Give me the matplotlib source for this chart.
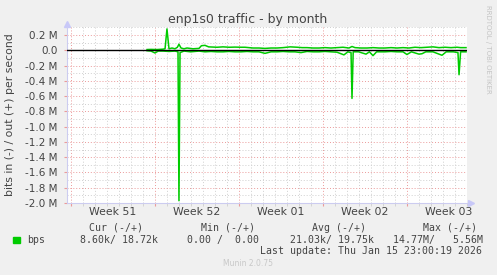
import numpy as np
import matplotlib
matplotlib.use("Agg")
import matplotlib.pyplot as plt
from matplotlib.patches import Rectangle

plt.rcParams.update({'font.size': 7.5, 'font.family': 'DejaVu Sans'})

# time axis in days from the left edge of the graph
week_starts = [0.31, 7.31, 14.31, 21.31, 28.31]
week_labels = ['Week 51', 'Week 52', 'Week 01', 'Week 02', 'Week 03']

# outbound traffic (+), Mbit/s
out_days = [6.67, 7.0, 7.5, 8.0, 8.17, 8.33, 8.5, 8.75, 9.0, 9.2, 9.33, 9.5, 9.75, 10.0,
            10.5, 11.0, 11.2, 11.5, 11.8, 12.5, 13.0, 13.5, 14.0, 14.5, 14.83, 15.5, 16.0,
            16.5, 17.0, 17.5, 18.0, 18.6, 19.2, 19.6, 20.0, 20.5, 21.0, 21.5, 22.0, 22.5,
            23.0, 23.5, 23.75, 24.0, 24.5, 25.0, 25.5, 26.0, 26.5, 27.0, 27.5, 28.0, 28.5,
            29.0, 29.5, 30.0, 30.5, 31.0, 31.5, 32.0, 32.5, 32.8, 33.25]
out_vals = [0.010, 0.012, 0.010, 0.015, 0.020, 0.280, 0.020, 0.030, 0.020, 0.040, 0.080,
            0.030, 0.020, 0.030, 0.020, 0.025, 0.060, 0.065, 0.045, 0.040, 0.045, 0.040,
            0.042, 0.040, 0.040, 0.030, 0.030, 0.025, 0.030, 0.030, 0.035, 0.045, 0.040,
            0.035, 0.035, 0.030, 0.030, 0.035, 0.030, 0.035, 0.040, 0.030, 0.050, 0.035,
            0.030, 0.030, 0.035, 0.030, 0.030, 0.035, 0.030, 0.035, 0.030, 0.040, 0.035,
            0.040, 0.045, 0.035, 0.040, 0.035, 0.040, 0.035, 0.035]

# inbound traffic (-), Mbit/s
in_days = [6.67, 7.0, 7.33, 7.6, 8.0, 8.5, 9.0, 9.25, 9.33, 9.42, 9.75, 10.3, 11.0, 11.5,
           12.0, 12.5, 13.0, 13.5, 14.0, 14.5, 15.0, 15.5, 16.0, 16.5, 17.0, 17.5, 18.0,
           18.5, 19.0, 19.5, 20.0, 20.5, 21.0, 21.5, 22.0, 22.5, 23.08, 23.4, 23.67, 23.75,
           23.85, 24.3, 24.92, 25.2, 25.5, 25.8, 26.5, 27.0, 27.5, 28.0, 28.33, 28.7, 29.33,
           29.58, 29.9, 30.5, 31.25, 31.6, 32.2, 32.58, 32.67, 32.8, 33.25]
in_vals = [-0.005, -0.010, -0.035, -0.010, -0.010, -0.015, -0.010, -0.020, -1.970, -0.030,
           -0.010, -0.020, -0.010, -0.020, -0.015, -0.020, -0.020, -0.015, -0.020, -0.020,
           -0.015, -0.020, -0.020, -0.040, -0.020, -0.020, -0.015, -0.020, -0.020, -0.030,
           -0.015, -0.020, -0.020, -0.015, -0.020, -0.025, -0.060, -0.020, -0.030, -0.630,
           -0.020, -0.020, -0.050, -0.020, -0.070, -0.020, -0.020, -0.015, -0.020, -0.020,
           -0.055, -0.020, -0.050, -0.045, -0.020, -0.020, -0.065, -0.020, -0.020, -0.030,
           -0.320, -0.020, -0.020]

yticks = [0.2, 0.0, -0.2, -0.4, -0.6, -0.8, -1.0, -1.2, -1.4, -1.6, -1.8, -2.0]
ytick_labels = ['0.2 M', '0.0', '-0.2 M', '-0.4 M', '-0.6 M', '-0.8 M', '-1.0 M',
                '-1.2 M', '-1.4 M', '-1.6 M', '-1.8 M', '-2.0 M']

W, H = 497, 275
def fx(px):
    return px / W
def fy(py):
    return 1 - py / H

fig = plt.figure(figsize=(W / 100, H / 100), dpi=100, facecolor='#f0f0f0')
ax = fig.add_axes([fx(67), fy(203), fx(467) - fx(67), fy(27.4) - fy(203)])
ax.set_facecolor('white')

green = '#00cc00'
ax.plot(out_days, out_vals, color=green, lw=1.1, zorder=3)
ax.plot(in_days, in_vals, color=green, lw=1.1, zorder=3)
ax.axhline(0, color='black', lw=1.0, zorder=4)

ax.set_xlim(0, 400 / 12)
ax.set_ylim(-2.0, 0.3)

# grid: red at weeks / 0.2M, grey at days / 0.1M
ax.set_xticks(week_starts)
ax.set_xticks(np.arange(0.31, 33.4, 1.0), minor=True)
ax.set_xticklabels([])
ax.set_yticks(yticks)
ax.set_yticklabels(ytick_labels, color='#444444')
ax.set_yticks(np.arange(-1.9, 0.35, 0.2), minor=True)
ax.grid(which='major', color='#eb9a9a', lw=0.7, ls=(0, (1, 2)))
ax.grid(which='minor', color='#cfcfcf', lw=0.7, ls=(0, (1, 2)))
ax.tick_params(which='major', length=2, color='#eb9a9a', pad=5)
ax.tick_params(which='minor', length=2, color='#cfcfcf')
ax.tick_params(axis='y', which='minor', length=0)

for s in ['top', 'right']:
    ax.spines[s].set_visible(False)
for s in ['left', 'bottom']:
    ax.spines[s].set_color('#ccccf0')
ax.plot([0], [1.02], marker='^', ms=4, color='#c8c8f8', transform=ax.transAxes, clip_on=False)
ax.plot([1.01], [0], marker='>', ms=4, color='#c8c8f8', transform=ax.transAxes, clip_on=False)

for d, lab in zip(week_starts, week_labels):
    ax.text(d + 3.5, -0.05, lab, transform=ax.get_xaxis_transform(), ha='center', va='center',
            fontsize=7.8, color='#444444')

fig.text(fx(248), fy(19), 'enp1s0 traffic - by month', ha='center', va='center',
         fontsize=9, color='#444444')
fig.text(fx(10), fy(115), 'bits in (-) / out (+) per second', rotation=90, ha='center',
         va='center', fontsize=7.8, color='#444444')
fig.text(fx(488), fy(5), 'RRDTOOL / TOBI OETIKER', rotation=270, ha='center', va='top',
         fontsize=5, color='#c4c4c4')

mono = 'DejaVu Sans Mono'
fs = 7.1
fig.text(fx(89), fy(228), 'Cur (-/+)', family=mono, fontsize=fs, color='#444444', va='center')
fig.text(fx(201), fy(228), 'Min (-/+)', family=mono, fontsize=fs, color='#444444', va='center')
fig.text(fx(312), fy(228), 'Avg (-/+)', family=mono, fontsize=fs, color='#444444', va='center')
fig.text(fx(423), fy(228), 'Max (-/+)', family=mono, fontsize=fs, color='#444444', va='center')

fig.add_artist(Rectangle((fx(13), fy(243)), 7 / W, 6 / H, transform=fig.transFigure,
                         color=green))
fig.text(fx(27), fy(240), 'bps', family=mono, fontsize=fs, color='#444444', va='center')
fig.text(fx(158), fy(240), '8.60k/ 18.72k', family=mono, fontsize=fs, color='#444444',
         va='center', ha='right')
fig.text(fx(259), fy(240), '0.00 /  0.00', family=mono, fontsize=fs, color='#444444',
         va='center', ha='right')
fig.text(fx(374), fy(240), '21.03k/ 19.75k', family=mono, fontsize=fs, color='#444444',
         va='center', ha='right')
fig.text(fx(483), fy(240), '14.77M/   5.56M', family=mono, fontsize=fs, color='#444444',
         va='center', ha='right')
fig.text(fx(482), fy(251), 'Last update: Thu Jan 15 23:00:19 2026', family=mono,
         fontsize=fs, color='#444444', va='center', ha='right')
fig.text(fx(248), fy(264), 'Munin 2.0.75', ha='center', va='center', fontsize=5.5,
         color='#c8c8c8')

fig.savefig('out.png', dpi=100, facecolor=fig.get_facecolor())
